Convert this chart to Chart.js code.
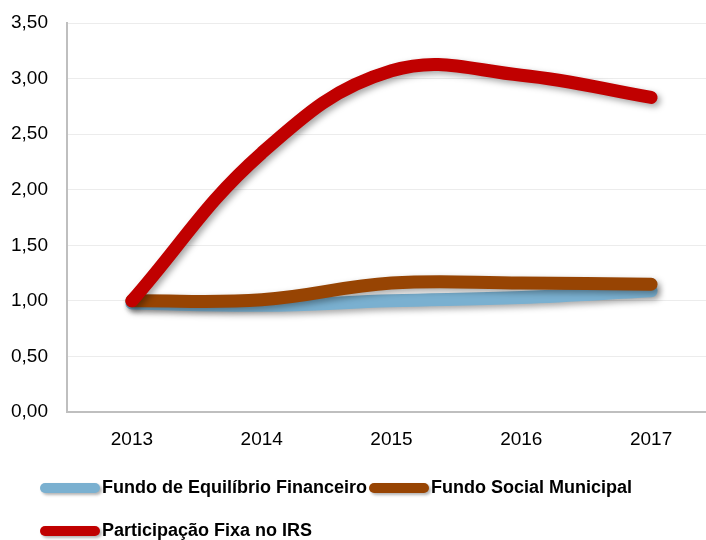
<!DOCTYPE html>
<html>
<head>
<meta charset="utf-8">
<script src="https://cdn.jsdelivr.net/npm/chart.js@4"></script>
<style>
    html, body { margin: 0; padding: 0; background: #fff; overflow: hidden; }
    #wrap { position: relative; width: 706px; height: 540px; overflow: hidden; }
    #chart { position: absolute; left: 0; top: 0; }
    #legend { position: absolute; left: 40px; top: 466px; width: 660px; font-family: "Liberation Sans", sans-serif; font-weight: bold; font-size: 18px; color: #000; }
    .item { display: inline-flex; align-items: center; height: 28px; margin-right: 2px; }
    .mark { width: 60px; height: 10px; border-radius: 5px; margin-right: 2px; box-shadow: 2px 2px 3px rgba(0,0,0,0.3); }
    .row { height: 43px; display: flex; align-items: center; }
</style>
</head>
<body>
<div id="wrap">
    <canvas id="chart" width="716" height="540" style="width:716px;height:540px"></canvas>
    <div id="legend"></div>
</div>
<script>
const years = ['2013', '2014', '2015', '2016', '2017'];
const fundoEquilibrio = [0.98, 0.96, 1.00, 1.03, 1.09];
const fundoSocial = [1.00, 1.01, 1.16, 1.16, 1.15];
const participacaoIRS = [1.00, 2.33, 3.07, 3.03, 2.83];
const seriesNames = ['Fundo de Equilíbrio Financeiro', 'Fundo Social Municipal', 'Participação Fixa no IRS'];
const seriesColors = ['#7ab0d0', '#974403', '#c00000'];

const shadowPlugin = {
    id: 'lineShadow',
    beforeDatasetsDraw(chart) {
        const ctx = chart.ctx;
        ctx.save();
        ctx.shadowColor = 'rgba(0,0,0,0.35)';
        ctx.shadowBlur = 6;
        ctx.shadowOffsetX = 3;
        ctx.shadowOffsetY = 3;
    },
    afterDatasetsDraw(chart) {
        chart.ctx.restore();
    }
};

function makeSet(i, data, order) {
    return {
        label: seriesNames[i],
        data: data,
        borderColor: seriesColors[i],
        backgroundColor: seriesColors[i],
        borderWidth: 13,
        borderCapStyle: 'round',
        borderJoinStyle: 'round',
        pointRadius: 0,
        tension: 0.4,
        order: order
    };
}

const ctx = document.getElementById('chart').getContext('2d');
new Chart(ctx, {
    type: 'line',
    data: {
        labels: years,
        datasets: [
            makeSet(0, fundoEquilibrio, 3),
            makeSet(1, fundoSocial, 2),
            makeSet(2, participacaoIRS, 1)
        ]
    },
    options: {
        responsive: false,
        animation: false,
        layout: { padding: { left: 0, right: 0, top: 23, bottom: 88 } },
        plugins: { legend: { display: false }, tooltip: { enabled: false } },
        scales: {
            x: {
                offset: true,
                grid: { display: false, drawTicks: false },
                border: { color: '#bfbfbf', width: 2 },
                ticks: { color: '#000', padding: 16, font: { family: 'Liberation Sans', size: 19 } },
                afterFit: s => { s.height = 40; }
            },
            y: {
                min: 0,
                max: 3.5,
                grid: { color: '#ececec', drawTicks: false },
                border: { color: '#bfbfbf', width: 2, dash: [] },
                ticks: {
                    stepSize: 0.5,
                    color: '#000',
                    padding: 19,
                    font: { family: 'Liberation Sans', size: 19 },
                    callback: v => v.toFixed(2).replace('.', ',')
                },
                afterFit: s => {
                    s.width = 67;
                    s.paddingTop = 12;
                    s.paddingBottom = 12;
                }
            }
        }
    },
    plugins: [shadowPlugin]
});

const legend = document.getElementById('legend');
const rows = [[0, 1], [2]];
rows.forEach(r => {
    const row = document.createElement('div');
    row.className = 'row';
    r.forEach(i => {
        const item = document.createElement('span');
        item.className = 'item';
        item.innerHTML = `<span class="mark" style="background:${seriesColors[i]}"></span><span>${seriesNames[i]}</span>`;
        row.appendChild(item);
    });
    legend.appendChild(row);
});
</script>
</body>
</html>
